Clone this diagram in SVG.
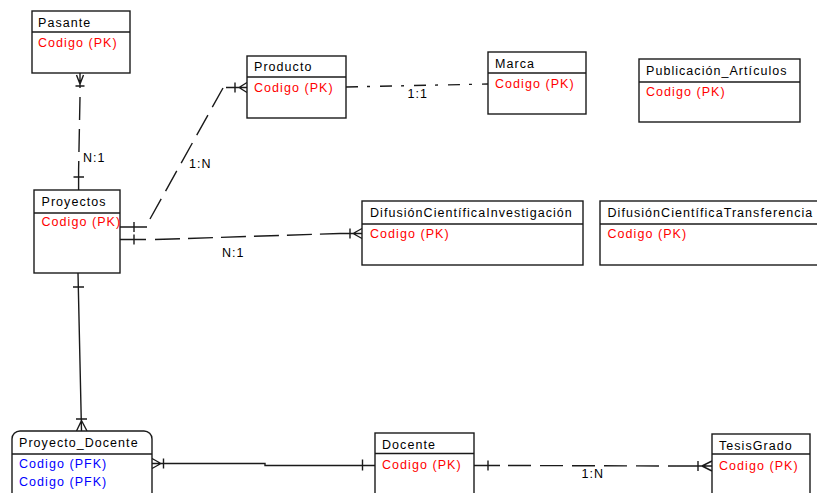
<svg xmlns="http://www.w3.org/2000/svg" width="817" height="493" viewBox="0 0 817 493">
<style>
.box{fill:#fff;stroke:#1a1a1a;stroke-width:1.4}
.div{stroke:#1a1a1a;stroke-width:1.4}
text{font-family:"Liberation Sans",Arial,sans-serif;font-size:12.5px;letter-spacing:1.05px}
.t{fill:#000}
.pk{fill:#ff0000}
.fk{fill:#0000ff}
.lbl{fill:#000}
.ln{fill:none;stroke:#1a1a1a;stroke-width:1.4}
.d{stroke-dasharray:23 9}
.dd{stroke-dasharray:12 9 3 10}
</style>
<rect width="817" height="493" fill="#fff"/>

<g id="connectors">
  <!-- Pasante - Proyectos -->
  <path class="ln" d="M80,73 V88 M76.5,75 L80,84 L83.5,75 M75.5,86 H84.5"/>
  <path class="ln d" d="M80,97 L78.6,170"/>
  <path class="ln" d="M78.6,170 V190 M73.5,177 H84"/>
  <text class="lbl" x="83" y="161.5">N:1</text>

  <!-- Proyectos - Producto -->
  <path class="ln" d="M120,227 H147 M134,222 V232"/>
  <path class="ln d" d="M150,219 L223,88"/>
  <path class="ln" d="M226,87.5 H247 M235,82.5 V92.5 M239,87.5 L247,82.5 M239,87.5 L247,92.5"/>
  <text class="lbl" x="189" y="168">1:N</text>

  <!-- Proyectos - DifusionCientificaInvestigacion -->
  <path class="ln" d="M120,239.5 H146 M134,234.5 V244.5"/>
  <path class="ln" style="stroke-dasharray:25 8" d="M155,239.5 L340,233.5"/>
  <path class="ln" d="M340,233.5 H362 M350,228.5 V238.5 M353,233.5 L362,228.5 M353,233.5 L362,238.5"/>
  <text class="lbl" x="222" y="256.5">N:1</text>

  <!-- Producto - Marca -->
  <path class="ln dd" d="M346,87 L488,84"/>
  <text class="lbl" x="407.5" y="97.5">1:1</text>

  <!-- Proyectos - Proyecto_Docente -->
  <path class="ln" d="M78,273 L81.5,431 M73,287 H84 M76,419 H87 M81.5,420.5 L76.5,431 M81.5,420.5 L87,431"/>

  <!-- Proyecto_Docente - Docente -->
  <path class="ln" d="M152,463.5 H265 V465.5 H375 M161,463.5 L152,458.5 M161,463.5 L152,468.5 M163.5,458.5 V468.5 M362.5,459.5 V470.5"/>

  <!-- Docente - TesisGrado -->
  <path class="ln" d="M474,465.5 H500 M488,460.5 V470.5"/>
  <path class="ln d" d="M508,465.5 L677,466"/>
  <path class="ln" d="M677,466 H712 M698,461 V471 M702,466 L712,461 M702,466 L712,471"/>
  <text class="lbl" x="581.5" y="478">1:N</text>
</g>

<g id="pasante">
  <rect class="box" x="32" y="11" width="98" height="62"/>
  <line class="div" x1="32" y1="32" x2="130" y2="32"/>
  <text class="t" x="38" y="27">Pasante</text>
  <text class="pk" x="38" y="47">Codigo (PK)</text>
</g>

<g id="producto">
  <rect class="box" x="247" y="56" width="99" height="62"/>
  <line class="div" x1="247" y1="77" x2="346" y2="77"/>
  <text class="t" x="254" y="71">Producto</text>
  <text class="pk" x="254" y="92">Codigo (PK)</text>
</g>

<g id="marca">
  <rect class="box" x="488" y="52" width="98" height="62"/>
  <line class="div" x1="488" y1="73" x2="586" y2="73"/>
  <text class="t" x="495" y="68">Marca</text>
  <text class="pk" x="495" y="88">Codigo (PK)</text>
</g>

<g id="publicacion">
  <rect class="box" x="639" y="59" width="161" height="63"/>
  <line class="div" x1="639" y1="82" x2="800" y2="82"/>
  <text class="t" x="646" y="75">Publicación_Artículos</text>
  <text class="pk" x="646" y="96">Codigo (PK)</text>
</g>

<g id="proyectos">
  <rect class="box" x="34" y="190" width="86" height="83"/>
  <line class="div" x1="34" y1="213" x2="120" y2="213"/>
  <text class="t" x="41.5" y="206">Proyectos</text>
  <text class="pk" x="41.5" y="226">Codigo (PK)</text>
</g>

<g id="difusion_investigacion">
  <rect class="box" x="362" y="201" width="221" height="64"/>
  <line class="div" x1="362" y1="224" x2="583" y2="224"/>
  <text class="t" x="370" y="217">DifusiónCientíficaInvestigación</text>
  <text class="pk" x="370" y="238">Codigo (PK)</text>
</g>

<g id="difusion_transferencia">
  <rect class="box" x="600" y="201" width="230" height="64"/>
  <line class="div" x1="600" y1="224" x2="830" y2="224"/>
  <text class="t" x="607.5" y="217">DifusiónCientíficaTransferencia</text>
  <text class="pk" x="607.5" y="238">Codigo (PK)</text>
</g>

<g id="proyecto_docente">
  <rect class="box" x="12" y="431" width="140" height="80" rx="8" ry="8"/>
  <line class="div" x1="12" y1="454" x2="152" y2="454"/>
  <text class="t" x="19" y="447">Proyecto_Docente</text>
  <text class="fk" x="19" y="467.5">Codigo (PFK)</text>
  <text class="fk" x="19" y="485.5">Codigo (PFK)</text>
</g>

<g id="docente">
  <rect class="box" x="375" y="433" width="99" height="80"/>
  <line class="div" x1="375" y1="453.5" x2="474" y2="453.5"/>
  <text class="t" x="382" y="448.5">Docente</text>
  <text class="pk" x="382" y="468.5">Codigo (PK)</text>
</g>

<g id="tesisgrado">
  <rect class="box" x="712" y="434" width="98" height="80"/>
  <line class="div" x1="712" y1="454" x2="810" y2="454"/>
  <text class="t" x="719" y="450">TesisGrado</text>
  <text class="pk" x="719" y="470">Codigo (PK)</text>
</g>
</svg>
